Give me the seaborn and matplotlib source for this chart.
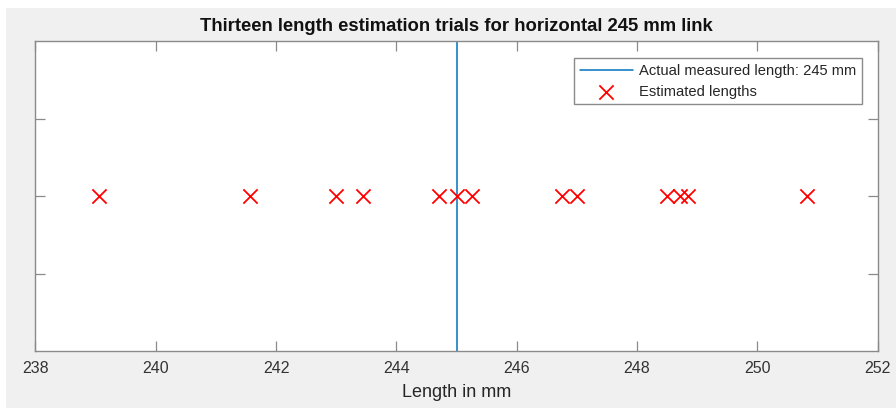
import matplotlib
matplotlib.use("Agg")
import matplotlib.pyplot as plt
from matplotlib.patches import Rectangle
import pandas as pd
import seaborn as sns

# Thirteen length estimates (mm) for the horizontal link
estimated_lengths = [239.05, 241.57, 243.0, 243.45, 244.7, 245.01, 245.26,
                     246.76, 247.01, 248.5, 248.72, 248.84, 250.82]
trial_row = [1, 1, 1, 1, 1, 1, 1, 1, 1, 1, 1, 1, 1]
actual_length = 245
x_ticks = [238, 240, 242, 244, 246, 248, 250, 252]
y_ticks = [0.5, 1.0, 1.5]

sns.set_theme(style="white")
plt.rcParams["font.family"] = ["Liberation Sans", "DejaVu Sans"]

W, H = 896, 408
fig = plt.figure(figsize=(W / 100, H / 100), dpi=100, facecolor="white")
# grey figure panel
fig.patches.append(Rectangle((6 / W, 0.0), 1.0, 1 - 8 / H, transform=fig.transFigure,
                             facecolor="#f0f0f0", edgecolor="none", zorder=-10))

ax = fig.add_axes([35.4 / W, 1 - 351 / H, (877.7 - 35.4) / W, (351 - 41) / H])
ax.set_facecolor("white")

df = pd.DataFrame({"length": estimated_lengths, "row": trial_row})

ax.axvline(actual_length, color="#0072BD", lw=1.1,
           label=f"Actual measured length: {actual_length} mm", zorder=2)
sns.scatterplot(data=df, x="length", y="row", marker="x", color="#ff0000",
                s=105, linewidth=1.3, ax=ax, label="Estimated lengths", zorder=3)

ax.set_xlim(238, 252)
ax.set_ylim(0, 2)
ax.set_xticks(x_ticks)
ax.set_xticklabels([str(t) for t in x_ticks])
ax.set_yticks(y_ticks)
ax.set_yticklabels([])
ax.set_ylabel("")
ax.set_xlabel("Length in mm", fontsize=13, color="#262626", labelpad=6)
ax.set_title("Thirteen length estimation trials for horizontal 245 mm link",
             fontsize=13.3, fontweight="bold", color="#111111", pad=7)

for s in ax.spines.values():
    s.set_visible(True)
    s.set_color("#8a8a8a")
    s.set_linewidth(1.0)
ax.tick_params(axis="both", direction="in", length=7, width=0.9, color="#8a8a8a",
               top=True, right=True, bottom=True, left=True,
               labelsize=11.5, labelcolor="#333333", pad=7)

leg = ax.legend(loc="upper right", bbox_to_anchor=(862 / W, 1 - 58 / H),
                bbox_transform=fig.transFigure, fontsize=10.6, frameon=True,
                fancybox=False, edgecolor="#8a8a8a", framealpha=1,
                borderpad=0.4, handlelength=3.6, handletextpad=0.4,
                labelspacing=0.45, borderaxespad=0)
leg.get_frame().set_linewidth(1.0)

fig.savefig("out.png", dpi=100, facecolor=fig.get_facecolor())
